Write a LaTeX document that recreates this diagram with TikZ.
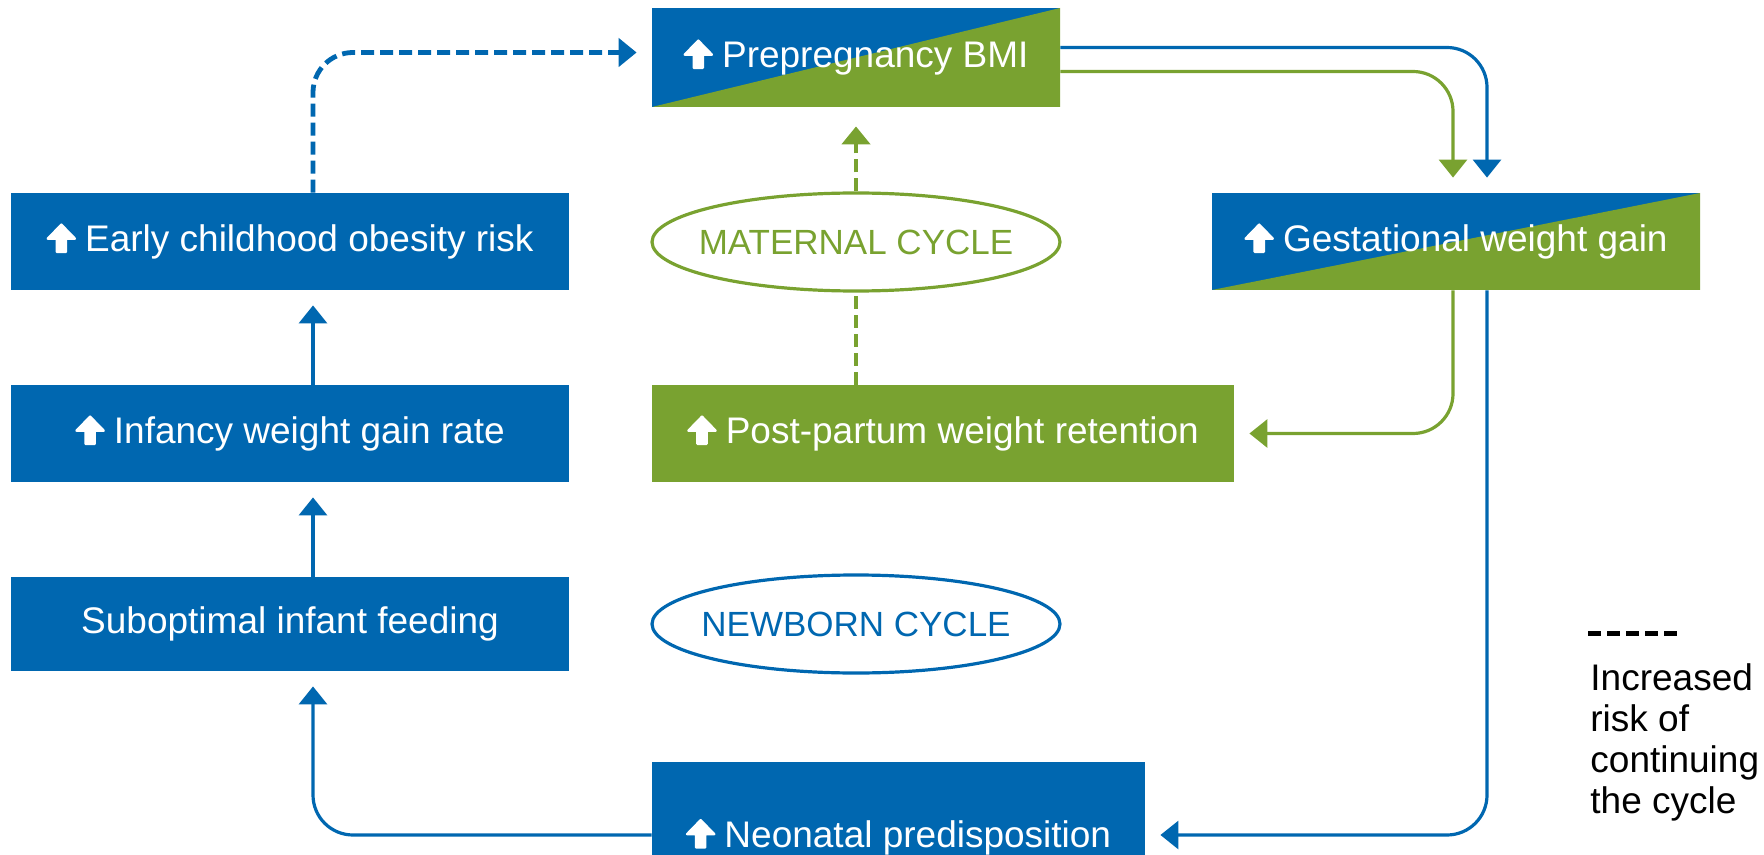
\documentclass[tikz,border=0pt]{standalone}
\usepackage{fontspec}
\setmainfont{Liberation Sans}
\usetikzlibrary{arrows.meta,shapes.geometric,positioning}
\definecolor{cycblue}{RGB}{0,103,176}
\definecolor{cycgreen}{RGB}{121,162,48}
\newcommand{\UpIcon}{\tikz[x=1pt,y=1pt,baseline=0pt]\fill[white,draw=white,line width=1.2pt,line join=round] (-2.3,0) -- (-2.3,6.6) -- (-6.8,6.6) -- (0,13.6) -- (6.8,6.6) -- (2.3,6.6) -- (2.3,0) -- cycle;\hspace{4.5pt}}
\newcommand{\CycleText}[1]{\makebox[0pt]{#1}}

\begin{document}
\begin{tikzpicture}[x=0.5pt, y=-0.5pt,
    box/.style={rectangle, fill=cycblue, text=white, inner sep=0pt, minimum height=48.5pt, font=\fontsize{18.5}{22}\selectfont},
    greenbox/.style={box, fill=cycgreen},
    splitbox/.style={box, path picture={\fill[cycgreen] (path picture bounding box.south west) -- (path picture bounding box.north east) -- (path picture bounding box.south east) -- cycle;}},
    cycle/.style={ellipse, draw=#1, text=#1, line width=1.6pt, minimum width=204pt, minimum height=49pt, inner sep=0pt, font=\fontsize{17.5}{20}\selectfont},
    link/.style={line width=1.6pt, rounded corners=20pt},
    dashlink/.style={line width=2.4pt, rounded corners=20pt, dash pattern=on 6.5pt off 3pt},
    tip/.style={-{Triangle[width=14pt,length=9pt]}, shorten >=7.5pt}]

            \useasboundingbox (0,0) rectangle (1764,855);
            \clip (0,0) rectangle (1764,855);

            \draw(856,57.5) node[splitbox, minimum width=204pt, minimum height=49.5pt] (bmi) {\UpIcon Prepregnancy BMI};
            \draw(1456,241.5) node[splitbox, minimum width=244pt] (gwg) {\UpIcon Gestational weight gain};
            \draw(290,241.5) node[box, minimum width=279pt] (ech) {\UpIcon Early childhood obesity risk};
            \draw(290,433.5) node[box, minimum width=279pt] (inf) {\UpIcon Infancy weight gain rate};
            \draw(290,624) node[box, minimum width=279pt, minimum height=47pt] (feed) {Suboptimal infant feeding};
            \draw(856,242) node[cycle=cycgreen] (mat) {\CycleText{MATERNAL CYCLE}};
            \draw(943,433.5) node[greenbox, minimum width=291pt] (ppr) {\UpIcon Post-partum weight retention};
            \draw(856,624) node[cycle=cycblue] (new) {\CycleText{NEWBORN CYCLE}};
            \draw(898.5,837) node[box, minimum width=246.5pt, minimum height=75pt] (neo) {\UpIcon Neonatal predisposition};

            \draw[dashlink, tip, cycblue] ([xshift=11.5pt]ech.north) |- ([yshift=2.5pt]bmi.west);
            \draw[link, tip, cycblue] ([yshift=5pt]bmi.east) -| ([xshift=15.5pt]gwg.north);
            \draw[link, tip, cycgreen] ([yshift=-7pt]bmi.east) -| ([xshift=-1.5pt]gwg.north);
            \draw[link, tip, cycgreen] ([xshift=-1.5pt]gwg.south) |- (ppr.east);
            \draw[link, tip, cycblue] ([xshift=15.5pt]gwg.south) |- ([yshift=1pt]neo.east);
            \draw[link, tip, cycblue] ([yshift=1pt]neo.west) -| ([xshift=11.5pt]feed.south);
            \draw[link, tip, cycblue] ([xshift=11.5pt]feed.north) -- ([xshift=11.5pt]inf.south);
            \draw[link, tip, cycblue] ([xshift=11.5pt]inf.north) -- ([xshift=11.5pt]ech.south);
            \draw[dashlink, tip, cycgreen, shorten >=9.5pt] (mat.north) -- (bmi.south);
            \draw[dashlink, cycgreen] (mat.south |- ppr.north) -- (mat.south);

            \coordinate (ks) at (1588,633);
            \coordinate (ke) at (1677,633);
            \draw[line width=2.5pt, dash pattern=on 6.36pt off 3.18pt] (ks) -- (ke);
            \draw(1590,663) node[anchor=north west, align=left, inner sep=0pt, font=\fontsize{18.5}{20.5}\selectfont] (key) {Increased\\risk of\\continuing\\the cycle};

        \end{tikzpicture}
\end{document}
